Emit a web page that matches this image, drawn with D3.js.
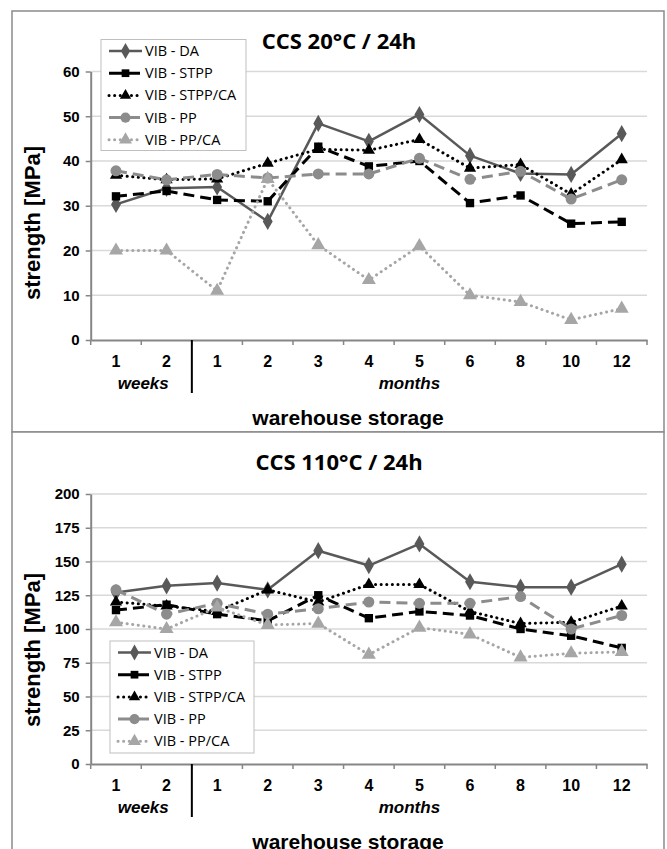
<!DOCTYPE html>
<html>
<head>
<meta charset="utf-8">
<script src="https://cdn.jsdelivr.net/npm/d3@7"></script>
<style>
body { margin: 0; background: #fff; }
</style>
</head>
<body>
<svg id="main" width="667" height="849"></svg>
<script>
// categories on the x axis (first two are weeks, the rest months)
var categories = ['1', '2', '1', '2', '3', '4', '5', '6', '8', '10', '12'];
var groups = [{name: 'weeks', from: 0, to: 2}, {name: 'months', from: 2, to: 11}];
var seriesNames = ['VIB - DA', 'VIB - STPP', 'VIB - STPP/CA', 'VIB - PP', 'VIB - PP/CA'];

// CCS 20°C / 24h
var da20     = [30.3, 33.9, 34.2, 26.5, 48.4, 44.4, 50.4, 41.2, 37.2, 37.0, 46.1];
var stpp20   = [32.1, 33.3, 31.3, 31.0, 43.2, 38.8, 40.0, 30.6, 32.3, 26.0, 26.4];
var stppca20 = [36.8, 35.8, 36.0, 39.5, 42.6, 42.4, 44.8, 38.4, 39.2, 32.6, 40.3];
var pp20     = [37.8, 35.8, 37.0, 36.2, 37.1, 37.1, 40.6, 35.9, 37.7, 31.5, 35.8];
var ppca20   = [20.0, 20.0, 11.0, 36.0, 21.2, 13.4, 21.0, 10.0, 8.5, 4.5, 7.0];
var ticks20 = [0, 10, 20, 30, 40, 50, 60];

// CCS 110°C / 24h
var da110     = [127, 132, 134, 129, 158, 147, 163, 135, 131, 131, 148];
var stpp110   = [114, 118, 111, 106, 125, 108, 113, 110, 100, 95, 86];
var stppca110 = [120, 117, 113, 129, 120, 133, 133, 113, 104, 105, 117];
var pp110     = [129, 111, 119, 111, 115, 120, 119, 119, 124, 100, 110];
var ppca110   = [105, 100, 116, 103, 104, 81, 101, 96, 79, 82, 83];
var ticks110 = [0, 25, 50, 75, 100, 125, 150, 175, 200];

var styles = [
	{stroke: '#595959', width: 2.5, dash: null, marker: 'diamond', fill: '#595959', size: 85},
	{stroke: '#000', width: 3, dash: '11,6', marker: 'square', fill: '#000', size: 70},
	{stroke: '#000', width: 3, dash: '0.1,5.5', marker: 'triangle', fill: '#000', size: 65},
	{stroke: '#8c8c8c', width: 3, dash: '11,6', marker: 'circle', fill: '#8c8c8c', size: 95},
	{stroke: '#a6a6a6', width: 3, dash: '0.1,5.5', marker: 'triangle', fill: '#a6a6a6', size: 85},
];
var symbolTypes = {
	diamond: d3.symbolDiamond, square: d3.symbolSquare,
	triangle: d3.symbolTriangle, circle: d3.symbolCircle,
};

var svg = d3.select('#main');
var tickFont = 'Liberation Sans, Arial, sans-serif';

function panel(opt) {
	var g = svg.append('g');
	g.append('rect')
		.attr('x', 12).attr('y', opt.top).attr('width', 652).attr('height', opt.h)
		.attr('fill', '#fff').attr('stroke', '#8a8a8a').attr('stroke-width', 1.5);

	var x = d3.scaleBand().domain(d3.range(categories.length)).range([90.7, 647]);
	var y = d3.scaleLinear().domain([0, opt.ymax]).range([opt.y0, opt.y1]);
	var cx = i => x(i) + x.bandwidth() / 2;

	// gridlines
	g.selectAll('.grid').data(opt.ticks.filter(t => t > 0)).join('line')
		.attr('x1', x.range()[0]).attr('x2', x.range()[1])
		.attr('y1', d => y(d)).attr('y2', d => y(d))
		.attr('stroke', '#d9d9d9').attr('stroke-width', 1.5);

	// y axis
	var ya = g.append('g').attr('transform', `translate(${x.range()[0]},0)`)
		.call(d3.axisLeft(y).tickValues(opt.ticks).tickSize(5).tickSizeOuter(0).tickPadding(6));
	ya.select('.domain').attr('stroke', '#868686').attr('stroke-width', 2);
	ya.selectAll('.tick line').attr('stroke', '#868686').attr('stroke-width', 1.5);
	ya.selectAll('.tick text').attr('font-family', tickFont).attr('font-weight', 'bold')
		.attr('font-size', 15).attr('fill', '#000');

	// x axis
	var xa = g.append('g').attr('transform', `translate(0,${opt.y0})`)
		.call(d3.axisBottom(x).tickFormat(i => categories[i]).tickSize(0).tickPadding(16));
	xa.select('.domain').attr('stroke', '#868686').attr('stroke-width', 2);
	xa.selectAll('.tick text').attr('font-family', tickFont).attr('font-weight', 'bold')
		.attr('font-size', 16).attr('fill', '#000');
	var bounds = d3.range(categories.length + 1).map(i => x.range()[0] + i * x.bandwidth());
	g.selectAll('.xt').data(bounds).join('line')
		.attr('x1', d => d).attr('x2', d => d)
		.attr('y1', opt.y0).attr('y2', opt.y0 + 5)
		.attr('stroke', '#868686').attr('stroke-width', 1.5);

	// group divider + group labels
	g.append('line')
		.attr('x1', bounds[2]).attr('x2', bounds[2])
		.attr('y1', opt.y0).attr('y2', opt.y0 + 53)
		.attr('stroke', '#000').attr('stroke-width', 2);
	g.selectAll('.grp').data(groups).join('text')
		.attr('x', d => d.name === 'weeks' ? (bounds[d.from] + bounds[d.to]) / 2 + 2 : (bounds[d.from] + bounds[d.to]) / 2 - 10)
		.attr('y', opt.y0 + 49)
		.attr('text-anchor', 'middle')
		.attr('font-family', tickFont).attr('font-weight', 'bold').attr('font-style', 'italic')
		.attr('font-size', 17)
		.text(d => d.name);

	g.append('text')
		.attr('x', 348).attr('y', opt.y0 + 85)
		.attr('text-anchor', 'middle')
		.attr('font-family', tickFont).attr('font-weight', 'bold').attr('font-size', 21)
		.text('warehouse storage');

	g.append('text')
		.attr('transform', `translate(40,${opt.ytitle}) rotate(-90)`)
		.attr('text-anchor', 'middle')
		.attr('font-family', tickFont).attr('font-weight', 'bold').attr('font-size', 22)
		.text('strength [MPa]');

	g.append('text')
		.attr('x', 339).attr('y', opt.titleY)
		.attr('text-anchor', 'middle')
		.attr('font-family', 'Open Sans, sans-serif').attr('font-weight', 'bold').attr('font-size', 22)
		.text(opt.title);

	// series
	var line = d3.line().x((d, i) => cx(i)).y(d => y(d));
	opt.series.forEach((vals, s) => {
		var st = styles[s];
		g.append('path').datum(vals)
			.attr('d', line)
			.attr('fill', 'none')
			.attr('stroke', st.stroke).attr('stroke-width', st.width)
			.attr('stroke-dasharray', st.dash)
			.attr('stroke-linecap', st.dash && st.dash.startsWith('0.1') ? 'round' : 'butt')
			.attr('stroke-linejoin', 'round');
		g.selectAll(null).data(vals).join('path')
			.attr('transform', (d, i) => `translate(${cx(i)},${y(d)})`)
			.attr('d', d3.symbol(symbolTypes[st.marker], st.size))
			.attr('fill', st.fill);
	});

	// legend
	var L = opt.legend;
	var lg = g.append('g').attr('transform', `translate(${L.x},${L.y})`);
	lg.append('rect').attr('width', L.w).attr('height', L.h)
		.attr('fill', '#fff').attr('stroke', '#bfbfbf').attr('stroke-width', 1);
	seriesNames.forEach((name, s) => {
		var st = styles[s];
		var ry = 11.5 + s * 22.2;
		lg.append('line')
			.attr('x1', 8).attr('x2', 41).attr('y1', ry).attr('y2', ry)
			.attr('stroke', st.stroke).attr('stroke-width', st.width)
			.attr('stroke-dasharray', st.dash ? (st.dash.startsWith('0.1') ? '0.1,5.5' : '13,5') : null)
			.attr('stroke-linecap', st.dash && st.dash.startsWith('0.1') ? 'round' : 'butt');
		lg.append('path')
			.attr('transform', `translate(24.5,${ry})`)
			.attr('d', d3.symbol(symbolTypes[st.marker], st.size * 0.85))
			.attr('fill', st.fill);
		lg.append('text')
			.attr('x', 44).attr('y', ry + 5)
			.attr('font-family', 'Open Sans, sans-serif').attr('font-size', 14.5)
			.attr('fill', '#000')
			.text(name);
	});
}

panel({
	top: 11, h: 421, title: 'CCS 20°C / 24h', titleY: 49,
	ymax: 60, ticks: ticks20, y0: 340, y1: 71.5, ytitle: 223,
	series: [da20, stpp20, stppca20, pp20, ppca20],
	legend: {x: 101, y: 39.5, w: 145, h: 111},
});
panel({
	top: 432, h: 440, title: 'CCS 110°C / 24h', titleY: 470,
	ymax: 200, ticks: ticks110, y0: 764, y1: 494, ytitle: 650,
	series: [da110, stpp110, stppca110, pp110, ppca110],
	legend: {x: 110, y: 641, w: 144, h: 112},
});
</script>
</body>
</html>
